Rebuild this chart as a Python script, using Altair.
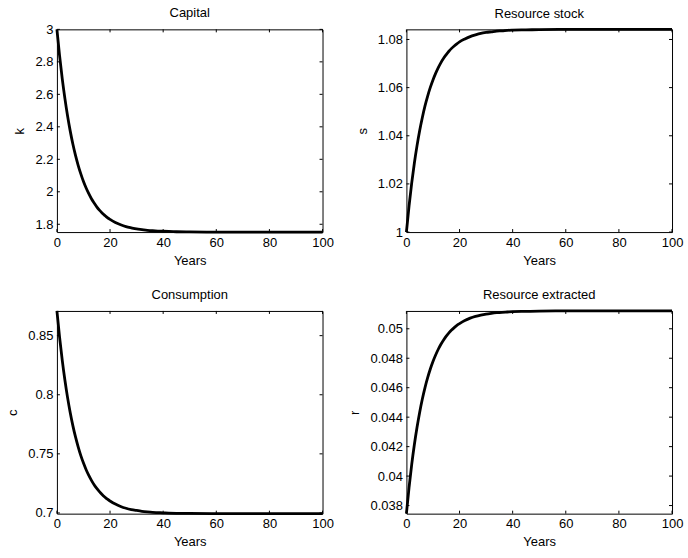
import altair as alt
import pandas as pd

# ---- data ----
years = [0, 1, 2, 3, 4, 5, 6, 7, 8, 9, 10, 11, 12, 13, 14, 15, 16, 17, 18, 19, 20,
         22, 24, 26, 28, 30, 32, 34, 36, 38, 40, 45, 50, 60, 70, 80, 90, 100]

capital = [3.000, 2.838, 2.697, 2.575, 2.468, 2.375, 2.294, 2.224, 2.163, 2.110, 2.063,
           2.023, 1.988, 1.957, 1.931, 1.907, 1.887, 1.870, 1.855, 1.841, 1.830,
           1.811, 1.797, 1.786, 1.778, 1.771, 1.767, 1.763, 1.760, 1.758, 1.757,
           1.754, 1.753, 1.752, 1.752, 1.752, 1.752, 1.752]

stock = [1.0000, 1.0109, 1.0204, 1.0287, 1.0359, 1.0422, 1.0476, 1.0524, 1.0565, 1.0601,
         1.0632, 1.0659, 1.0683, 1.0704, 1.0722, 1.0737, 1.0751, 1.0763, 1.0773, 1.0782,
         1.0790, 1.0802, 1.0812, 1.0819, 1.0825, 1.0829, 1.0832, 1.0835, 1.0836, 1.0838,
         1.0839, 1.0840, 1.0841, 1.0842, 1.0842, 1.0842, 1.0842, 1.0842]

consumption = [0.8709, 0.8487, 0.8293, 0.8125, 0.7978, 0.7850, 0.7739, 0.7643, 0.7559,
               0.7485, 0.7422, 0.7366, 0.7318, 0.7276, 0.7239, 0.7208, 0.7180, 0.7156,
               0.7135, 0.7116, 0.7101, 0.7075, 0.7055, 0.7040, 0.7029, 0.7021, 0.7014,
               0.7009, 0.7005, 0.7003, 0.7001, 0.6997, 0.6996, 0.6994, 0.6994, 0.6994,
               0.6994, 0.6994]

extracted = [0.03745, 0.03923, 0.04079, 0.04214, 0.04331, 0.04434, 0.04523, 0.04601,
             0.04668, 0.04727, 0.04778, 0.04822, 0.04861, 0.04895, 0.04924, 0.04950,
             0.04972, 0.04991, 0.05008, 0.05023, 0.05035, 0.05056, 0.05072, 0.05084,
             0.05093, 0.05100, 0.05105, 0.05109, 0.05112, 0.05114, 0.05116, 0.05118,
             0.05120, 0.05121, 0.05121, 0.05121, 0.05121, 0.05121]

x_ticks = [0, 20, 40, 60, 80, 100]
k_ticks = [1.8, 2.0, 2.2, 2.4, 2.6, 2.8, 3.0]
s_ticks = [1.0, 1.02, 1.04, 1.06, 1.08]
c_ticks = [0.7, 0.75, 0.8, 0.85]
r_ticks = [0.038, 0.04, 0.042, 0.044, 0.046, 0.048, 0.05]

k_domain = [1.752, 3.0]
s_domain = [1.0, 1.0842]
c_domain = [0.6994, 0.8709]
r_domain = [0.03745, 0.05121]

W, H = 266, 203
TL = 3
FONT = "Liberation Sans"
FS = 13


def panel(title, ylab, vals, yticks, ydom):
    df = pd.DataFrame({"t": years, "v": vals})
    xs = alt.Scale(domain=[0, 100], nice=False, zero=False)
    ys = alt.Scale(domain=ydom, nice=False, zero=False)
    xax = alt.Axis(values=x_ticks, title="Years", labelFlush=False, labelOverlap=False,
                   titlePadding=5)
    yax = alt.Axis(values=yticks, title=ylab, format="~g", labelOverlap=False,
                   titlePadding=8)
    line = alt.Chart(df).mark_line(color="black", strokeWidth=2.8, interpolate="monotone").encode(
        x=alt.X("t:Q", scale=xs, axis=xax),
        y=alt.Y("v:Q", scale=ys, axis=yax),
    )
    xt = pd.DataFrame({"t": x_ticks})
    yt = pd.DataFrame({"v": yticks})
    bx = alt.Chart(xt).mark_rule(color="black", strokeWidth=1)
    x_bot = bx.encode(x=alt.X("t:Q", scale=xs, axis=xax), y=alt.value(H), y2=alt.value(H - TL))
    x_top = bx.encode(x=alt.X("t:Q", scale=xs, axis=xax), y=alt.value(0), y2=alt.value(TL))
    by = alt.Chart(yt).mark_rule(color="black", strokeWidth=1)
    y_left = by.encode(y=alt.Y("v:Q", scale=ys, axis=yax), x=alt.value(0), x2=alt.value(TL))
    y_right = by.encode(y=alt.Y("v:Q", scale=ys, axis=yax), x=alt.value(W - TL), x2=alt.value(W))
    return alt.layer(line, x_bot, x_top, y_left, y_right).properties(
        width=W, height=H, title=alt.TitleParams(title, anchor="middle", frame="group")
    )


p1 = panel("Capital", "k", capital, k_ticks, k_domain)
p2 = panel("Resource stock", "s", stock, s_ticks, s_domain)
p3 = panel("Consumption", "c", consumption, c_ticks, c_domain)
p4 = panel("Resource extracted", "r", extracted, r_ticks, r_domain)

chart = alt.ConcatChart(
    concat=[p1, p2, p3, p4], columns=2,
    spacing={"row": 79, "column": 84}, bounds="flush",
).properties(
    padding={"left": 6, "top": 6, "right": 4, "bottom": 4},
    background="white",
).configure_view(
    stroke="black", strokeWidth=1
).configure_axis(
    domain=False, ticks=False, grid=False,
    labelFont=FONT, labelFontSize=FS, labelColor="black", labelPadding=4,
    titleFont=FONT, titleFontSize=FS, titleFontWeight="normal", titleColor="black",
).configure_title(
    font=FONT, fontSize=FS, fontWeight="normal", color="black", offset=3
)

chart.save("out.html", embed_options={"renderer": "svg", "actions": False})
